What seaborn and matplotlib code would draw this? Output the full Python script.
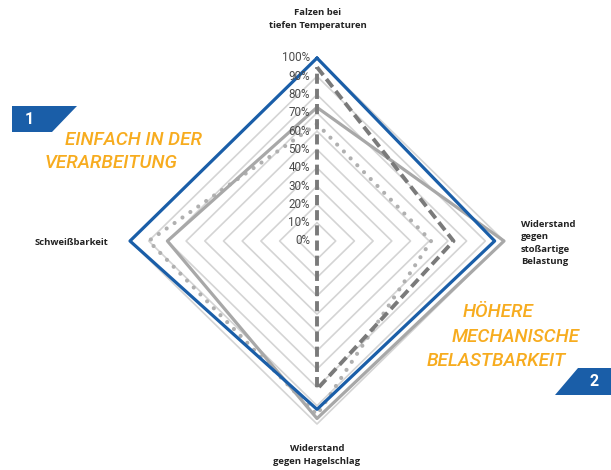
import numpy as np
import matplotlib
matplotlib.use("Agg")
import matplotlib.pyplot as plt
import seaborn as sns
import pandas as pd
from matplotlib.patches import Polygon

# ---------------- data ----------------
categories = ["Falzen bei\ntiefen Temperaturen",
              "Widerstand\ngegen\nstoßartige\nBelastung",
              "Widerstand\ngegen Hagelschlag",
              "Schweißbarkeit"]
blue_values = [100, 95, 92, 100]
gray_values = [73, 100, 97, 80]
dashed_values = [95, 73, 81, 0]
dotted_values = [64, 61, 95, 90]
grid_levels = [10, 20, 30, 40, 50, 60, 70, 80, 90, 100]
tick_values = [0, 10, 20, 30, 40, 50, 60, 70, 80, 90, 100]
tick_labels = [f"{v}%" for v in tick_values]

# ---------------- style ----------------
sns.set_theme(style="white")
plt.rcParams["font.family"] = ["Open Sans", "DejaVu Sans"]

W, H = 611, 470
fig = plt.figure(figsize=(W / 100, H / 100), dpi=100)
ax = fig.add_axes([0, 0, 1, 1])
CX, CY = 317, 241        # centre in pixels (from top-left)
RX, RY = 187, 183        # pixels for 100%
ax.set_xlim(-CX / RX, (W - CX) / RX)
ax.set_ylim(-(H - CY) / RY, CY / RY)
ax.axis("off")

theta = np.deg2rad([0, 90, 180, 270])


def to_df(vals):
    r = np.asarray(vals, dtype=float) / 100.0
    x = r * np.sin(theta)
    y = r * np.cos(theta)
    x = np.append(x, x[0])
    y = np.append(y, y[0])
    return pd.DataFrame({"x": x, "y": y, "i": np.arange(len(x))})


# grid diamonds
for lv in grid_levels:
    d = to_df([lv] * 4)
    ax.plot(d["x"], d["y"], color="#d4d4d4", lw=1.2, zorder=1)

BLUE = "#1a5ea8"

sns.lineplot(data=to_df(dotted_values), x="x", y="y", sort=False, estimator=None,
             color="#b0b0b0", lw=3.0, linestyle=(0, (0.01, 2.3)),
             dash_capstyle="round", ax=ax, zorder=2)
sns.lineplot(data=to_df(gray_values), x="x", y="y", sort=False, estimator=None,
             color="#a8a8a8", lw=2.3, ax=ax, zorder=3)
sns.lineplot(data=to_df(dashed_values), x="x", y="y", sort=False, estimator=None,
             color="#7a7a7a", lw=2.8, linestyle=(0, (2.6, 1.3)),
             ax=ax, zorder=4)
sns.lineplot(data=to_df(blue_values), x="x", y="y", sort=False, estimator=None,
             color=BLUE, lw=2.3, ax=ax, zorder=5)
ax.set_xlabel("")
ax.set_ylabel("")
if ax.get_legend():
    ax.get_legend().remove()

# percentage labels
for v, lab in zip(tick_values, tick_labels):
    ax.text(-7 / RX, v / 100.0, lab, ha="right", va="center", fontsize=8.4,
            family=["Roboto", "DejaVu Sans"], color="#4a4a4a", zorder=6)


def px(x, y):
    return ((x - CX) / RX, (CY - y) / RY)


lab_kw = dict(fontsize=6.8, fontweight="bold", color="#222222", linespacing=1.45)
ax.text(*px(318, 19), categories[0], ha="center", va="center", **lab_kw)
ax.text(*px(521, 243), categories[1], ha="left", va="center", **lab_kw)
ax.text(*px(317, 455), categories[2], ha="center", va="center", **lab_kw)
ax.text(*px(108, 243), categories[3], ha="right", va="center", **lab_kw)

# decorative badges (figure pixel coordinates)
def fig_poly(pts, color):
    pts = [(x / W, 1 - y / H) for x, y in pts]
    fig.patches.append(Polygon(pts, closed=True, transform=fig.transFigure,
                               facecolor=color, edgecolor="none", zorder=10))


fig_poly([(12, 106), (77, 106), (52, 132), (12, 132)], BLUE)
fig_poly([(578, 368), (611, 368), (611, 395), (555, 395)], BLUE)
fig.text(29 / W, 1 - 119 / H, "1", ha="center", va="center", color="white",
         fontsize=11.5, fontweight="bold", family=["Roboto", "DejaVu Sans"], zorder=11)
fig.text(594 / W, 1 - 382 / H, "2", ha="center", va="center", color="white",
         fontsize=11.5, fontweight="bold", family=["Roboto", "DejaVu Sans"], zorder=11)

ORANGE = "#f7ac1f"
o_kw = dict(color=ORANGE, fontsize=13.6, fontstyle="italic", fontweight="medium",
            family=["Roboto", "DejaVu Sans"], va="center", ha="left")
fig.text(65 / W, 1 - 140 / H, "EINFACH IN DER", **o_kw)
fig.text(45 / W, 1 - 163 / H, "VERARBEITUNG", **o_kw)
fig.text(463 / W, 1 - 312 / H, "HÖHERE", **o_kw)
fig.text(452 / W, 1 - 337 / H, "MECHANISCHE", **o_kw)
fig.text(427 / W, 1 - 361 / H, "BELASTBARKEIT", **o_kw)

fig.savefig("out.png", dpi=100, facecolor="white")
